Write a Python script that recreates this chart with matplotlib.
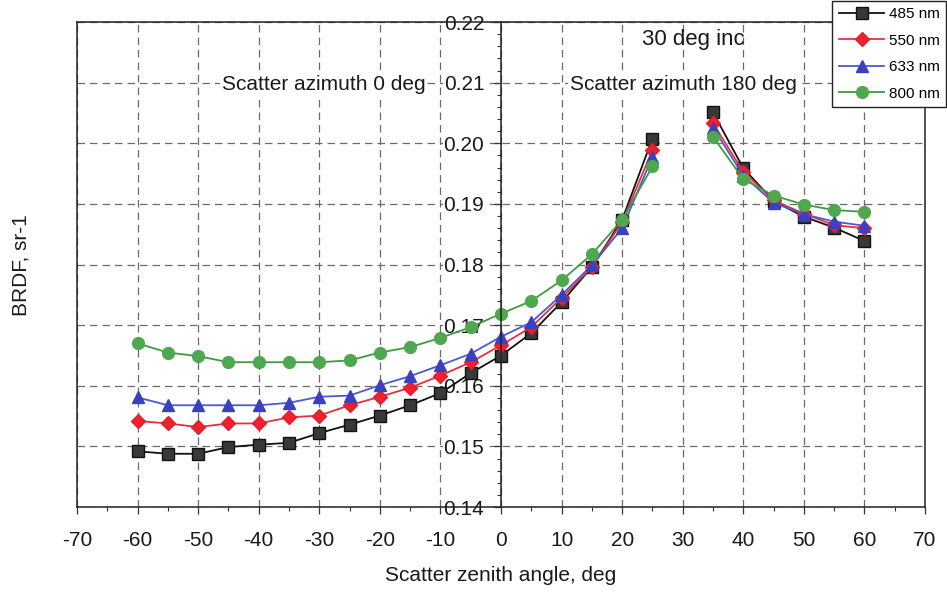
import numpy as np
import matplotlib
matplotlib.use('Agg')
import matplotlib.pyplot as plt
from matplotlib.ticker import MultipleLocator, FormatStrFormatter

plt.rcParams['font.family'] = ['Liberation Sans', 'DejaVu Sans']
plt.rcParams['axes.unicode_minus'] = False

# scatter zenith angle, deg (no measurement at 30 = specular direction)
angles = [-60, -55, -50, -45, -40, -35, -30, -25, -20, -15, -10, -5, 0,
          5, 10, 15, 20, 25, 30, 35, 40, 45, 50, 55, 60]

brdf_485 = [0.1492, 0.1488, 0.1488, 0.1499, 0.1503, 0.1506, 0.1522, 0.1536,
            0.1551, 0.1568, 0.1588, 0.1621, 0.1650, 0.1687, 0.1738, 0.1796,
            0.1874, 0.2008, np.nan, 0.2051, 0.1959, 0.1905, 0.1879, 0.1861,
            0.1839]
brdf_550 = [0.1542, 0.1538, 0.1532, 0.1538, 0.1538, 0.1548, 0.1551, 0.1568,
            0.1582, 0.1597, 0.1617, 0.1639, 0.1667, 0.1697, 0.1745, 0.1796,
            0.1870, 0.1989, np.nan, 0.2033, 0.1953, 0.1906, 0.1884, 0.1865,
            0.1860]
brdf_633 = [0.1581, 0.1568, 0.1568, 0.1568, 0.1568, 0.1572, 0.1582, 0.1584,
            0.1601, 0.1616, 0.1634, 0.1653, 0.1681, 0.1705, 0.1750, 0.1799,
            0.1860, 0.1978, np.nan, 0.2026, 0.1947, 0.1902, 0.1883, 0.1871,
            0.1864]
brdf_800 = [0.1670, 0.1655, 0.1649, 0.1639, 0.1639, 0.1639, 0.1639, 0.1642,
            0.1655, 0.1664, 0.1679, 0.1697, 0.1719, 0.1740, 0.1774, 0.1817,
            0.1874, 0.1962, np.nan, 0.2011, 0.1941, 0.1914, 0.1899, 0.1890,
            0.1887]

series = [
    ('485 nm', brdf_485, 's', '#383838', '#111111', '#111111', 8),
    ('550 nm', brdf_550, 'D', '#f0202e', '#e0202e', '#e8303c', 7),
    ('633 nm', brdf_633, '^', '#3a40c0', '#3a40c0', '#4a5ad0', 8.5),
    ('800 nm', brdf_800, 'o', '#4fa84f', '#4fa84f', '#3e9c3e', 8.5),
]

fig = plt.figure(figsize=(9.47, 5.98), dpi=100)
ax = fig.add_axes([0.0813, 0.152, 0.8955, 0.811])

for label, vals, marker, face, edge, lcolor, ms in series:
    ax.plot(angles, vals, color=lcolor, lw=1.3, marker=marker, ms=ms,
            markerfacecolor=face, markeredgecolor=edge, label=label)

ax.set_xlim(-70, 70)
ax.set_ylim(0.14, 0.22)
ax.xaxis.set_major_locator(MultipleLocator(10))
ax.xaxis.set_minor_locator(MultipleLocator(5))
ax.yaxis.set_major_locator(MultipleLocator(0.01))
ax.yaxis.set_minor_locator(MultipleLocator(0.002))
ax.yaxis.set_major_formatter(FormatStrFormatter('%.2f'))

# y axis drawn at zero angle, outer frame kept at -70
ax.spines['left'].set_position(('data', 0))
for sp in ax.spines.values():
    sp.set_linewidth(1.1)
    sp.set_color('#222222')
ax.axvline(-70, color='#222222', lw=1.1, clip_on=False)

ax.grid(True, which='major', color='#6a6a6a', lw=0.9, linestyle=(0, (6, 4)))
ax.tick_params(axis='both', which='major', direction='out', length=5,
               width=0.9, labelsize=15, color='#333333', labelcolor='#1a1a1a')
ax.tick_params(axis='both', which='minor', direction='out', length=3,
               width=0.8, color='#333333')
ax.tick_params(axis='x', which='major', pad=12)
ax.tick_params(axis='y', which='major', pad=7)
for lbl in ax.get_yticklabels():
    lbl.set_bbox(dict(facecolor='white', edgecolor='none', pad=0.5))

ax.set_xlabel('Scatter zenith angle, deg', fontsize=15, labelpad=12,
              color='#1a1a1a')
fig.text(0.022, 0.557, 'BRDF, sr-1', rotation=90, fontsize=15,
         ha='center', va='center', color='#1a1a1a')

box = dict(facecolor='white', edgecolor='none', pad=1)
ax.text(-29.3, 0.2097, 'Scatter azimuth 0 deg', fontsize=15,
        ha='center', va='center', bbox=box, color='#1a1a1a')
ax.text(30.1, 0.2097, 'Scatter azimuth 180 deg', fontsize=15,
        ha='center', va='center', bbox=box, color='#1a1a1a')
ax.text(31.8, 0.2172, '30 deg inc', fontsize=16, ha='center', va='center',
        color='#1a1a1a')

leg = fig.legend(loc='upper right', bbox_to_anchor=(946 / 947, 1 - 1 / 598),
                 fontsize=11, handlelength=3.0, handletextpad=0.3,
                 labelspacing=0.82, borderpad=0.4, borderaxespad=0,
                 fancybox=False, framealpha=1)
leg.get_frame().set_edgecolor('#222222')
leg.get_frame().set_linewidth(1.0)

fig.savefig('out.png', dpi=100)
